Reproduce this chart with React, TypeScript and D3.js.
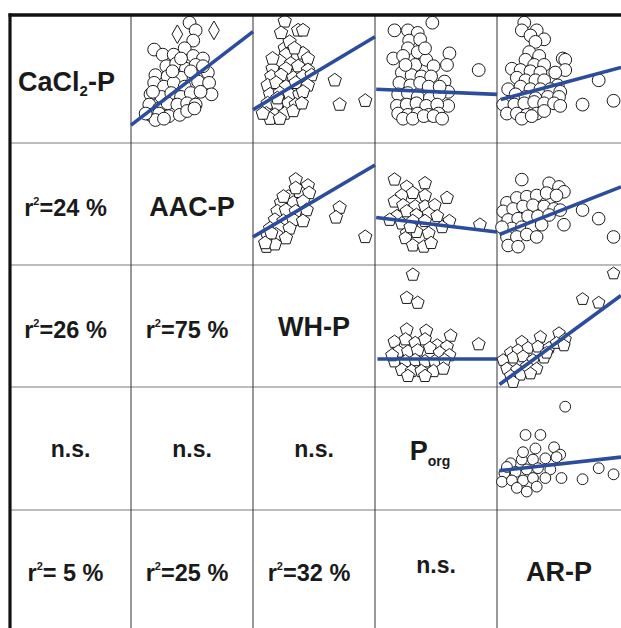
import React from "react"
import * as d3 from "d3"

// scatter data per panel, x and y in % of each panel's range
const cacl2VsAac = [
  [48, 94], [53, 88], [51, 80], [19, 73], [26, 69], [44, 74], [35, 69], [51, 68], [59, 66], [29, 60],
  [37, 62], [45, 58], [53, 61], [20, 53], [30, 52], [41, 51], [49, 56], [63, 55], [19, 47], [27, 44],
  [35, 47], [44, 44], [55, 48], [64, 47], [16, 38], [25, 36], [33, 39], [41, 36], [49, 39], [66, 38],
  [15, 30], [23, 27], [30, 31], [38, 30], [46, 31], [53, 30], [16, 22], [23, 23], [31, 21], [40, 22],
  [46, 25], [20, 18], [27, 19], [52, 27], [12, 23], [57, 40], [18, 40], [34, 56], [41, 66], [59, 60]
]
const cacl2VsAacDiamonds = [[38, 85], [68, 88]]

const cacl2VsWh = [
  [26, 95], [23, 86], [37, 88], [41, 88], [26, 74], [30, 79], [27, 69], [41, 70], [45, 66], [22, 64],
  [31, 62], [16, 58], [27, 58], [37, 60], [45, 57], [15, 52], [23, 53], [33, 51], [41, 52], [48, 53],
  [12, 45], [19, 47], [27, 44], [35, 47], [45, 45], [14, 38], [22, 39], [30, 38], [38, 38], [12, 31],
  [20, 30], [29, 31], [35, 30], [11, 23], [18, 22], [26, 23], [33, 25], [14, 19], [22, 19], [41, 40],
  [67, 49], [71, 30], [92, 33], [16, 66], [34, 74], [20, 35], [40, 31], [8, 23]
]

const cacl2VsPorg = [
  [47, 94], [16, 88], [27, 88], [35, 86], [28, 80], [37, 81], [27, 74], [35, 71], [61, 70], [59, 61],
  [15, 66], [23, 68], [33, 61], [42, 65], [48, 60], [85, 57], [22, 55], [30, 53], [38, 52], [46, 52],
  [20, 47], [29, 45], [37, 47], [44, 44], [57, 48], [60, 40], [19, 38], [27, 39], [35, 36], [45, 35],
  [53, 38], [60, 29], [18, 29], [26, 30], [34, 31], [42, 29], [51, 30], [19, 23], [27, 22], [35, 23],
  [44, 22], [52, 23], [23, 19], [31, 19], [40, 21], [48, 21], [55, 19], [25, 61], [41, 74], [53, 44]
]

const cacl2VsAr = [
  [22, 94], [20, 88], [32, 88], [27, 84], [38, 81], [31, 79], [26, 71], [34, 68], [53, 66], [55, 65],
  [23, 65], [30, 61], [38, 61], [55, 57], [12, 58], [19, 57], [27, 56], [35, 55], [47, 55], [16, 51],
  [23, 49], [31, 49], [38, 49], [49, 45], [9, 42], [19, 44], [27, 42], [35, 42], [43, 42], [51, 40],
  [15, 38], [23, 36], [31, 35], [41, 36], [50, 36], [82, 49], [5, 30], [14, 30], [22, 31], [30, 32],
  [38, 31], [46, 31], [51, 29], [69, 30], [94, 33], [8, 23], [16, 23], [24, 22], [32, 23], [38, 25],
  [20, 19], [28, 21]
]

const aacVsWh = [
  [35, 70], [45, 65], [29, 56], [38, 60], [46, 59], [23, 51], [33, 51], [41, 52], [20, 44], [27, 45],
  [35, 44], [44, 45], [18, 37], [25, 36], [33, 37], [41, 36], [14, 30], [22, 30], [30, 30], [12, 24],
  [19, 25], [27, 22], [11, 15], [18, 17], [71, 47], [68, 39], [92, 23], [25, 56], [35, 63], [15, 26],
  [10, 18]
]

const aacVsPorg = [
  [16, 70], [26, 64], [41, 67], [59, 55], [22, 57], [31, 59], [41, 57], [16, 52], [23, 49], [33, 48],
  [41, 48], [49, 49], [18, 40], [26, 44], [34, 41], [44, 42], [51, 40], [61, 36], [22, 34], [31, 36],
  [41, 36], [55, 31], [26, 26], [34, 27], [44, 26], [25, 22], [31, 16], [40, 15], [46, 18], [86, 33],
  [12, 37], [29, 31]
]

const aacVsAr = [
  [20, 70], [42, 67], [50, 64], [54, 60], [8, 51], [16, 55], [24, 56], [32, 57], [40, 59], [48, 57],
  [5, 44], [13, 46], [21, 48], [29, 49], [38, 48], [46, 46], [51, 45], [9, 37], [17, 38], [25, 40],
  [33, 40], [42, 41], [12, 30], [20, 31], [28, 31], [36, 33], [54, 33], [8, 23], [16, 23], [24, 25],
  [32, 23], [9, 16], [17, 15], [69, 45], [82, 38], [94, 23], [4, 31]
]

const whVsPorg = [
  [31, 92], [26, 73], [35, 69], [26, 47], [42, 46], [62, 42], [85, 35], [16, 37], [25, 39], [33, 36],
  [41, 39], [51, 34], [59, 33], [19, 29], [27, 29], [35, 30], [45, 32], [53, 28], [61, 26], [16, 21],
  [25, 21], [33, 22], [41, 21], [49, 21], [57, 22], [22, 14], [30, 13], [38, 13], [48, 13], [56, 15],
  [27, 9], [41, 9], [14, 26]
]

const whVsAr = [
  [94, 93], [69, 72], [82, 69], [20, 37], [35, 41], [50, 44], [55, 39], [11, 28], [17, 30], [25, 32],
  [33, 33], [42, 32], [48, 36], [5, 22], [13, 24], [21, 25], [29, 22], [38, 24], [8, 15], [16, 14],
  [24, 17], [32, 15], [11, 9], [19, 10], [27, 11], [13, 4], [40, 28], [54, 34]
]

const porgVsAr = [
  [55, 84], [23, 61], [35, 61], [46, 51], [51, 45], [11, 38], [20, 41], [29, 41], [39, 42], [48, 43],
  [6, 30], [15, 31], [24, 33], [33, 34], [43, 33], [4, 23], [12, 24], [21, 24], [29, 26], [39, 26],
  [52, 26], [16, 18], [24, 15], [32, 19], [21, 47], [31, 50], [69, 25], [82, 34], [94, 29], [8, 35]
]

// regression lines: [x0, y0, x1, y1]
const fitCacl2Aac = [0, 14, 100, 87]
const fitCacl2Wh = [0, 26, 100, 83]
const fitCacl2Porg = [1, 42, 100, 38]
const fitCacl2Ar = [3, 34, 100, 59]
const fitAacWh = [0, 23, 100, 82]
const fitAacPorg = [1, 39, 100, 27]
const fitAacAr = [2, 25, 100, 64]
const fitWhPorg = [2, 23, 100, 23]
const fitWhAr = [2, 2, 100, 75]
const fitPorgAr = [2, 32, 100, 43]

// lower triangle: r² in %, null = n.s.
const r2Cells = [
  { row: 1, col: 0, r2: "24" },
  { row: 2, col: 0, r2: "26" },
  { row: 2, col: 1, r2: "75" },
  { row: 3, col: 0, r2: null },
  { row: 3, col: 1, r2: null },
  { row: 3, col: 2, r2: null },
  { row: 4, col: 0, r2: " 5" },
  { row: 4, col: 1, r2: "25" },
  { row: 4, col: 2, r2: "32" },
  { row: 4, col: 3, r2: null }
]

const colEdges = [10, 131, 253, 375, 497, 621]
const rowEdges = [15, 143, 265, 387, 510, 628]

const panels = [
  { row: 0, col: 1, shape: "circle", size: 6.4, points: cacl2VsAac, fit: fitCacl2Aac },
  { row: 0, col: 2, shape: "pentagon", size: 7, points: cacl2VsWh, fit: fitCacl2Wh },
  { row: 0, col: 3, shape: "circle", size: 6.4, points: cacl2VsPorg, fit: fitCacl2Porg },
  { row: 0, col: 4, shape: "circle", size: 6.4, points: cacl2VsAr, fit: fitCacl2Ar },
  { row: 1, col: 2, shape: "pentagon", size: 7, points: aacVsWh, fit: fitAacWh },
  { row: 1, col: 3, shape: "pentagon", size: 6.8, points: aacVsPorg, fit: fitAacPorg },
  { row: 1, col: 4, shape: "circle", size: 6.3, points: aacVsAr, fit: fitAacAr },
  { row: 2, col: 3, shape: "pentagon", size: 6.8, points: whVsPorg, fit: fitWhPorg },
  { row: 2, col: 4, shape: "pentagon", size: 6.5, points: whVsAr, fit: fitWhAr },
  { row: 3, col: 4, shape: "circle", size: 5.4, points: porgVsAr, fit: fitPorgAr }
]

const pentagon = (r) => {
  const pts = d3.range(5).map((k) => {
    const a = -Math.PI / 2 + (k * 2 * Math.PI) / 5
    return [r * Math.cos(a), r * Math.sin(a)]
  })
  return "M" + pts.map((p) => p.join(",")).join("L") + "Z"
}

const font = "'Liberation Sans', Arial, Helvetica, sans-serif"
const ink = "#1a1a1a"
const blue = "#2c4c9c"

const cx = (c) => (colEdges[c] + colEdges[c + 1]) / 2
const cy = (r) => (rowEdges[r] + rowEdges[r + 1]) / 2

const Panel = ({ p }) => {
  const x = d3.scaleLinear().domain([0, 100]).range([colEdges[p.col], colEdges[p.col + 1]])
  const y = d3.scaleLinear().domain([0, 100]).range([rowEdges[p.row + 1], rowEdges[p.row]])
  const line = d3.line().x((d) => x(d[0])).y((d) => y(d[1]))
  const diamond = d3.symbol().type(d3.symbolDiamond).size(100)()
  return (
    <g>
      {p.points.map((d, i) =>
        p.shape === "circle" ? (
          <circle key={i} cx={x(d[0])} cy={y(d[1])} r={p.size} fill="#fff" stroke={ink} strokeWidth={1} />
        ) : (
          <path key={i} d={pentagon(p.size)} transform={`translate(${x(d[0])},${y(d[1])})`}
            fill="#fff" stroke={ink} strokeWidth={1} />
        )
      )}
      {p.row === 0 && p.col === 1 &&
        cacl2VsAacDiamonds.map((d, i) => (
          <path key={"d" + i} d={diamond} transform={`translate(${x(d[0])},${y(d[1])})`}
            fill="#fff" stroke={ink} strokeWidth={1} />
        ))}
      <path d={line([[p.fit[0], p.fit[1]], [p.fit[2], p.fit[3]]])} stroke={blue} strokeWidth={3.6} fill="none" />
    </g>
  )
}

export default function App() {
  const bigSize = 27
  return (
    <svg width={621} height={628} style={{ position: "absolute", left: 0, top: 0, background: "#fff" }}>
      <rect width={621} height={628} fill="#fff" />
      {/* grid */}
      {rowEdges.slice(1, 5).map((yy) => (
        <line key={"h" + yy} x1={10} x2={621} y1={yy} y2={yy} stroke="#7a7a7a" strokeWidth={1.2} />
      ))}
      {colEdges.slice(1, 5).map((xx) => (
        <line key={"v" + xx} x1={xx} x2={xx} y1={15} y2={628} stroke="#333" strokeWidth={1} />
      ))}

      {panels.map((p, i) => (
        <Panel key={i} p={p} />
      ))}

      {/* diagonal labels */}
      <g fontFamily={font} fontWeight="bold" fill={ink} textAnchor="middle">
        <text x={cx(0) - 4} y={cy(0) + 12} fontSize={bigSize}>
          CaCl<tspan fontSize={15} dy={5}>2</tspan><tspan dy={-5}>-P</tspan>
        </text>
        <text x={cx(1)} y={cy(1) + 12} fontSize={bigSize}>AAC-P</text>
        <text x={cx(2)} y={cy(2) + 10} fontSize={bigSize}>WH-P</text>
        <text x={cx(3) - 6} y={cy(3) + 11} fontSize={bigSize}>
          P<tspan fontSize={14} dy={6}>org</tspan>
        </text>
        <text x={cx(4)} y={cy(4) + 12} fontSize={bigSize}>AR-P</text>
      </g>

      {/* r² / n.s. */}
      <g fontFamily={font} fontWeight="bold" fill={ink} textAnchor="middle">
        {r2Cells.map((c, i) =>
          c.r2 === null ? (
            <text key={i} x={cx(c.col)} y={cy(c.row) + (c.row === 4 ? 4 : 8)} fontSize={23}>n.s.</text>
          ) : (
            <text key={i} x={cx(c.col) - 5} y={cy(c.row) + 12} fontSize={23.5} xmlSpace="preserve">
              r<tspan fontSize={11} dy={-11}>2</tspan><tspan dy={11}>{"=" + c.r2 + " %"}</tspan>
            </text>
          )
        )}
      </g>

      {/* thick frame */}
      <line x1={8.5} x2={621} y1={15} y2={15} stroke="#111" strokeWidth={3.5} />
      <line x1={10} x2={10} y1={13.5} y2={628} stroke="#111" strokeWidth={3.2} />
    </svg>
  )
}
